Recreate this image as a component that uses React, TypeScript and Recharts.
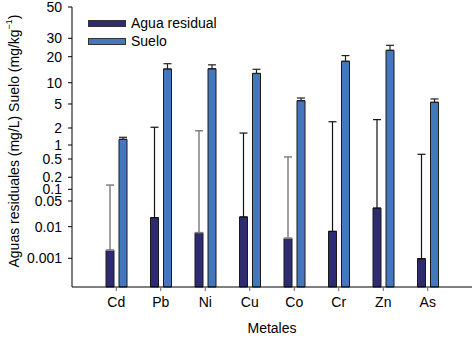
import React from 'react';
import { BarChart, Bar, XAxis, YAxis, ErrorBar, Legend } from 'recharts';

// Metals on the x axis
const metales = ['Cd', 'Pb', 'Ni', 'Cu', 'Co', 'Cr', 'Zn', 'As'];

// Wastewater (mg/L): mean and upper error
const aguaResidual = [0.0018, 0.0176, 0.0065, 0.0184, 0.0043, 0.0071, 0.032, 0.00097];
const aguaResidualErr = [0.126, 2.04, 1.78, 1.61, 0.55, 2.53, 2.72, 0.63];

// Soil (mg/kg): mean and upper error
const suelo = [1.26, 14.4, 14.5, 12.8, 5.57, 17.7, 23.0, 5.28];
const sueloErr = [0.11, 2.2, 1.6, 1.5, 0.51, 2.8, 2.7, 0.61];

// Tick labels of the y axis
const yTickLabels = ['0.001', '0.01', '0.05', '0.1', '0.2', '0.5', '1', '2', '5', '10', '20', '30', '50'];

// The original axis is not a plain log scale: each tick sits at its own fraction of the axis
const yTickFractions = [0.1025, 0.2154, 0.3071, 0.3489, 0.3918, 0.4571, 0.5071, 0.5679, 0.6536, 0.7296, 0.8225, 0.8882, 1];

// which wastewater error bars are drawn in grey (the rest are black)
const greyErr = [true, false, true, false, true, false, false, false];

const AGUA = '#2e2b73';
const SUELO = '#4577bf';
const FONT = '"Liberation Sans", Arial, sans-serif';

// piecewise log interpolation between the tick stops
const toScale = (v: number) => {
    const logs = yTickLabels.map(s => Math.log10(parseFloat(s)));
    const L = Math.log10(v);
    let i = 0;
    while (i < logs.length - 2 && L > logs[i + 1]) i++;
    const slope = (yTickFractions[i + 1] - yTickFractions[i]) / (logs[i + 1] - logs[i]);
    return yTickFractions[i] + (L - logs[i]) * slope;
};

const data = metales.map((metal, i) => {
    const a = toScale(aguaResidual[i]);
    const aErr: [number, number] = [0, toScale(aguaResidual[i] + aguaResidualErr[i]) - a];
    const s = toScale(suelo[i]);
    return {
        metal,
        agua: a,
        aguaErrGrey: greyErr[i] ? aErr : undefined,
        aguaErrBlack: greyErr[i] ? undefined : aErr,
        suelo: s,
        sueloErr: [0, toScale(suelo[i] + sueloErr[i]) - s] as [number, number],
    };
});

const formatYTick = (t: number) => {
    const idx = yTickFractions.findIndex(f => Math.abs(f - t) < 1e-6);
    return idx >= 0 ? yTickLabels[idx] : '';
};

const YLabel = (props: any) => {
    const vb = props.viewBox || { x: 12, y: 7, width: 60, height: 280 };
    const cx = 14;
    const cy = vb.y + vb.height / 2 - 6;
    return (
        <text
            x={cx}
            y={cy}
            transform={`rotate(-90 ${cx} ${cy})`}
            textAnchor="middle"
            dominantBaseline="central"
            fontSize={14}
            fontFamily={FONT}
            fill="#000"
        >
            Aguas residuales (mg/L) Suelo (mg/kg
            <tspan fontSize={9} dy={-5}>−1</tspan>
            <tspan dy={5}>)</tspan>
        </text>
    );
};

const LegendBox = () => (
    <div style={{ fontFamily: FONT, fontSize: 14, lineHeight: '18px' }}>
        {[
            { name: 'Agua residual', color: AGUA },
            { name: 'Suelo', color: SUELO },
        ].map(item => (
            <div key={item.name} style={{ display: 'flex', alignItems: 'center', height: 18 }}>
                <span
                    style={{
                        display: 'inline-block',
                        width: 36,
                        height: 5,
                        background: item.color,
                        border: '1px solid #333',
                        marginRight: 5,
                    }}
                />
                <span>{item.name}</span>
            </div>
        ))}
    </div>
);

const App: React.FC = () => {
    return (
        <div style={{ position: 'absolute', left: 0, top: 0, background: '#fff' }}>
            <BarChart
                width={473}
                height={338}
                data={data}
                margin={{ top: 7, right: 1, left: 12, bottom: 0 }}
                barSize={8}
                barGap={5}
            >
                <XAxis
                    dataKey="metal"
                    type="category"
                    height={51}
                    padding={{ left: 22, right: 22 }}
                    tickSize={4}
                    tickMargin={6}
                    interval={0}
                    axisLine={{ stroke: '#000' }}
                    tickLine={{ stroke: '#666' }}
                    tick={{ fill: '#000', fontSize: 14, fontFamily: FONT }}
                    label={{ value: 'Metales', position: 'insideBottom', offset: 5, fill: '#000', fontSize: 14, fontFamily: FONT }}
                />
                <XAxis
                    xAxisId="top"
                    orientation="top"
                    dataKey="metal"
                    height={0}
                    tick={false}
                    tickLine={false}
                    axisLine={{ stroke: '#000' }}
                />
                <YAxis
                    type="number"
                    domain={[0, 1]}
                    ticks={yTickFractions}
                    interval={0}
                    width={60}
                    tickSize={4}
                    tickMargin={6}
                    tickFormatter={formatYTick}
                    axisLine={{ stroke: '#000' }}
                    tickLine={{ stroke: '#000' }}
                    tick={{ fill: '#000', fontSize: 14, fontFamily: FONT }}
                    label={<YLabel />}
                />
                <YAxis
                    yAxisId="right"
                    orientation="right"
                    type="number"
                    domain={[0, 1]}
                    width={0}
                    tick={false}
                    tickLine={false}
                    axisLine={{ stroke: '#000' }}
                />
                <Legend
                    layout="vertical"
                    align="center"
                    verticalAlign="middle"
                    wrapperStyle={{ top: 14, left: 88, width: 'auto' }}
                    content={<LegendBox />}
                />
                <Bar dataKey="agua" name="Agua residual" fill={AGUA} stroke="#1a1a1a" strokeWidth={1} isAnimationActive={false}>
                    <ErrorBar dataKey="aguaErrGrey" direction="y" width={4} stroke="#808080" strokeWidth={1.5} isAnimationActive={false} />
                    <ErrorBar dataKey="aguaErrBlack" direction="y" width={4} stroke="#111" strokeWidth={1.2} isAnimationActive={false} />
                </Bar>
                <Bar dataKey="suelo" name="Suelo" fill={SUELO} stroke="#1a1a1a" strokeWidth={1} isAnimationActive={false}>
                    <ErrorBar dataKey="sueloErr" direction="y" width={4} stroke="#222" strokeWidth={1.2} isAnimationActive={false} />
                </Bar>
            </BarChart>
        </div>
    );
};

export default App;
